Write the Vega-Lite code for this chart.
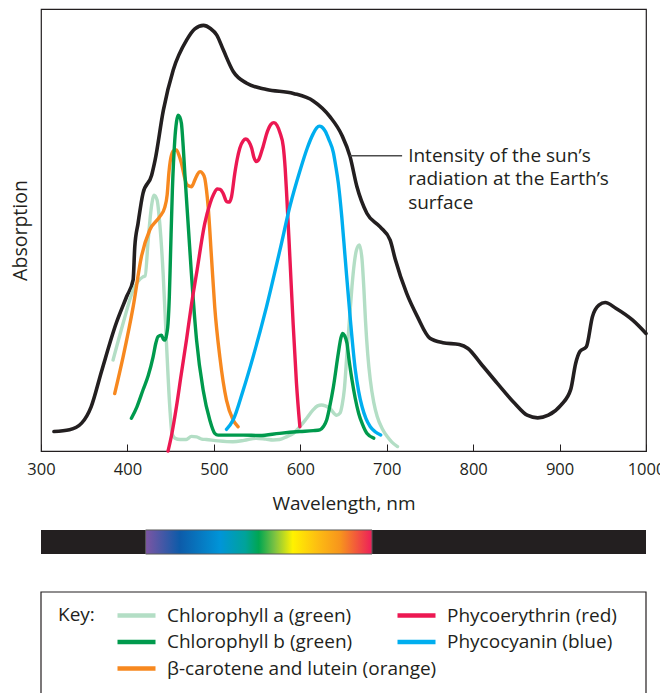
{
  "$schema": "https://vega.github.io/schema/vega-lite/v6.json",
  "padding": {"left": 9, "top": 8, "right": 4, "bottom": -4},
  "config": {
    "font": "Open Sans",
    "view": {"stroke": "#231f20", "strokeWidth": 1.2},
    "axis": {"grid": false},
    "legend": {
      "orient": "none", "symbolType": "stroke", "symbolSize": 1444, "symbolStrokeWidth": 4.5,
      "labelFontSize": 19, "labelColor": "#231f20", "labelOffset": 9, "labelLimit": 400, "padding": 0,
      "clipHeight": 26, "rowPadding": 0.5
    }
  },
  "datasets": {
    "curves": [
      {"pigment": "Sun", "nm": 315, "v": 4.4}, {"pigment": "Sun", "nm": 333, "v": 4.8}, {"pigment": "Sun", "nm": 347, "v": 6.3}, {"pigment": "Sun", "nm": 358, "v": 10},
      {"pigment": "Sun", "nm": 370, "v": 18}, {"pigment": "Sun", "nm": 387, "v": 28.9}, {"pigment": "Sun", "nm": 399, "v": 34.9}, {"pigment": "Sun", "nm": 406.6, "v": 38.7},
      {"pigment": "Sun", "nm": 408.5, "v": 46.2}, {"pigment": "Sun", "nm": 412.3, "v": 51.5}, {"pigment": "Sun", "nm": 418, "v": 58.3}, {"pigment": "Sun", "nm": 428, "v": 62.4},
      {"pigment": "Sun", "nm": 432, "v": 65.8}, {"pigment": "Sun", "nm": 441.6, "v": 77.1}, {"pigment": "Sun", "nm": 453, "v": 86.2}, {"pigment": "Sun", "nm": 468.6, "v": 93},
      {"pigment": "Sun", "nm": 478, "v": 95.5}, {"pigment": "Sun", "nm": 488, "v": 96.3}, {"pigment": "Sun", "nm": 496, "v": 95.6}, {"pigment": "Sun", "nm": 503.4, "v": 94.1},
      {"pigment": "Sun", "nm": 511, "v": 90.7}, {"pigment": "Sun", "nm": 522.6, "v": 85.8}, {"pigment": "Sun", "nm": 538, "v": 83.2}, {"pigment": "Sun", "nm": 561, "v": 81.8},
      {"pigment": "Sun", "nm": 592, "v": 80.9}, {"pigment": "Sun", "nm": 615, "v": 79.2}, {"pigment": "Sun", "nm": 634.5, "v": 75.6}, {"pigment": "Sun", "nm": 648, "v": 71.5},
      {"pigment": "Sun", "nm": 657.6, "v": 66.6}, {"pigment": "Sun", "nm": 665.4, "v": 59.9}, {"pigment": "Sun", "nm": 677, "v": 53.8}, {"pigment": "Sun", "nm": 692.4, "v": 50.7},
      {"pigment": "Sun", "nm": 704, "v": 47.7}, {"pigment": "Sun", "nm": 709.7, "v": 43.5}, {"pigment": "Sun", "nm": 723, "v": 35.7}, {"pigment": "Sun", "nm": 735.5, "v": 30.4},
      {"pigment": "Sun", "nm": 750, "v": 25.5}, {"pigment": "Sun", "nm": 765, "v": 24.5}, {"pigment": "Sun", "nm": 784, "v": 24.1}, {"pigment": "Sun", "nm": 794, "v": 23.2},
      {"pigment": "Sun", "nm": 808.8, "v": 19.8}, {"pigment": "Sun", "nm": 828, "v": 15.3}, {"pigment": "Sun", "nm": 848, "v": 10.8}, {"pigment": "Sun", "nm": 862.5, "v": 8.1},
      {"pigment": "Sun", "nm": 874.7, "v": 7.5}, {"pigment": "Sun", "nm": 887, "v": 8.1}, {"pigment": "Sun", "nm": 901.6, "v": 10.4}, {"pigment": "Sun", "nm": 913, "v": 14},
      {"pigment": "Sun", "nm": 918.6, "v": 19.8}, {"pigment": "Sun", "nm": 923.5, "v": 22.5}, {"pigment": "Sun", "nm": 931, "v": 23.6}, {"pigment": "Sun", "nm": 938, "v": 30.4},
      {"pigment": "Sun", "nm": 945.5, "v": 33}, {"pigment": "Sun", "nm": 952.8, "v": 33.6}, {"pigment": "Sun", "nm": 965, "v": 32.3}, {"pigment": "Sun", "nm": 984.6, "v": 29.6},
      {"pigment": "Sun", "nm": 1000, "v": 26.6},

      {"pigment": "Chlorophyll a (green)", "nm": 383.4, "v": 20.6}, {"pigment": "Chlorophyll a (green)", "nm": 395, "v": 28.9}, {"pigment": "Chlorophyll a (green)", "nm": 406.6, "v": 36.4},
      {"pigment": "Chlorophyll a (green)", "nm": 418, "v": 39.4}, {"pigment": "Chlorophyll a (green)", "nm": 420.5, "v": 39.6}, {"pigment": "Chlorophyll a (green)", "nm": 424, "v": 47.7},
      {"pigment": "Chlorophyll a (green)", "nm": 427.8, "v": 55.3}, {"pigment": "Chlorophyll a (green)", "nm": 430.9, "v": 57.9}, {"pigment": "Chlorophyll a (green)", "nm": 434.3, "v": 56.8},
      {"pigment": "Chlorophyll a (green)", "nm": 437.4, "v": 51.5}, {"pigment": "Chlorophyll a (green)", "nm": 441.3, "v": 40.2}, {"pigment": "Chlorophyll a (green)", "nm": 445, "v": 25.1},
      {"pigment": "Chlorophyll a (green)", "nm": 449, "v": 10}, {"pigment": "Chlorophyll a (green)", "nm": 451.5, "v": 4}, {"pigment": "Chlorophyll a (green)", "nm": 455, "v": 2.9},
      {"pigment": "Chlorophyll a (green)", "nm": 461, "v": 2.6}, {"pigment": "Chlorophyll a (green)", "nm": 468, "v": 2.6}, {"pigment": "Chlorophyll a (green)", "nm": 474, "v": 3.3},
      {"pigment": "Chlorophyll a (green)", "nm": 480, "v": 3.2}, {"pigment": "Chlorophyll a (green)", "nm": 486, "v": 2.7}, {"pigment": "Chlorophyll a (green)", "nm": 491.4, "v": 2.6},
      {"pigment": "Chlorophyll a (green)", "nm": 505, "v": 2.3}, {"pigment": "Chlorophyll a (green)", "nm": 522, "v": 2.1}, {"pigment": "Chlorophyll a (green)", "nm": 535, "v": 2.4},
      {"pigment": "Chlorophyll a (green)", "nm": 549, "v": 2.9}, {"pigment": "Chlorophyll a (green)", "nm": 560, "v": 2.7}, {"pigment": "Chlorophyll a (green)", "nm": 568.6, "v": 2.5},
      {"pigment": "Chlorophyll a (green)", "nm": 576, "v": 2.6}, {"pigment": "Chlorophyll a (green)", "nm": 584, "v": 3.2}, {"pigment": "Chlorophyll a (green)", "nm": 592, "v": 4},
      {"pigment": "Chlorophyll a (green)", "nm": 599.5, "v": 5.5}, {"pigment": "Chlorophyll a (green)", "nm": 607, "v": 7.3}, {"pigment": "Chlorophyll a (green)", "nm": 614.8, "v": 9.3},
      {"pigment": "Chlorophyll a (green)", "nm": 620, "v": 10.2}, {"pigment": "Chlorophyll a (green)", "nm": 624.6, "v": 10.4}, {"pigment": "Chlorophyll a (green)", "nm": 629, "v": 10.2},
      {"pigment": "Chlorophyll a (green)", "nm": 634, "v": 9.7}, {"pigment": "Chlorophyll a (green)", "nm": 642, "v": 8.1}, {"pigment": "Chlorophyll a (green)", "nm": 646, "v": 8.6},
      {"pigment": "Chlorophyll a (green)", "nm": 648.5, "v": 10.5}, {"pigment": "Chlorophyll a (green)", "nm": 651, "v": 14}, {"pigment": "Chlorophyll a (green)", "nm": 654, "v": 22.1},
      {"pigment": "Chlorophyll a (green)", "nm": 657, "v": 30}, {"pigment": "Chlorophyll a (green)", "nm": 659.8, "v": 37.2}, {"pigment": "Chlorophyll a (green)", "nm": 662.5, "v": 42.5},
      {"pigment": "Chlorophyll a (green)", "nm": 665, "v": 45.5}, {"pigment": "Chlorophyll a (green)", "nm": 668.4, "v": 46.6}, {"pigment": "Chlorophyll a (green)", "nm": 671.5, "v": 43.2},
      {"pigment": "Chlorophyll a (green)", "nm": 673.5, "v": 37}, {"pigment": "Chlorophyll a (green)", "nm": 675.4, "v": 29.6}, {"pigment": "Chlorophyll a (green)", "nm": 678, "v": 22},
      {"pigment": "Chlorophyll a (green)", "nm": 681, "v": 16.1}, {"pigment": "Chlorophyll a (green)", "nm": 685, "v": 11}, {"pigment": "Chlorophyll a (green)", "nm": 689, "v": 7.8},
      {"pigment": "Chlorophyll a (green)", "nm": 695, "v": 5}, {"pigment": "Chlorophyll a (green)", "nm": 700.8, "v": 3.2}, {"pigment": "Chlorophyll a (green)", "nm": 706, "v": 2},
      {"pigment": "Chlorophyll a (green)", "nm": 712.5, "v": 1},

      {"pigment": "β-carotene and lutein (orange)", "nm": 385.3, "v": 13}, {"pigment": "β-carotene and lutein (orange)", "nm": 395, "v": 21.3}, {"pigment": "β-carotene and lutein (orange)", "nm": 406.6, "v": 32.6},
      {"pigment": "β-carotene and lutein (orange)", "nm": 416.2, "v": 44}, {"pigment": "β-carotene and lutein (orange)", "nm": 425.8, "v": 50}, {"pigment": "β-carotene and lutein (orange)", "nm": 437.4, "v": 53},
      {"pigment": "β-carotene and lutein (orange)", "nm": 443, "v": 55}, {"pigment": "β-carotene and lutein (orange)", "nm": 446, "v": 58}, {"pigment": "β-carotene and lutein (orange)", "nm": 448, "v": 63},
      {"pigment": "β-carotene and lutein (orange)", "nm": 451, "v": 67}, {"pigment": "β-carotene and lutein (orange)", "nm": 454, "v": 68}, {"pigment": "β-carotene and lutein (orange)", "nm": 456.7, "v": 68.1},
      {"pigment": "β-carotene and lutein (orange)", "nm": 459.5, "v": 67}, {"pigment": "β-carotene and lutein (orange)", "nm": 462.5, "v": 65.1}, {"pigment": "β-carotene and lutein (orange)", "nm": 466, "v": 62},
      {"pigment": "β-carotene and lutein (orange)", "nm": 469, "v": 60.2}, {"pigment": "β-carotene and lutein (orange)", "nm": 474, "v": 59.8}, {"pigment": "β-carotene and lutein (orange)", "nm": 478, "v": 61.3},
      {"pigment": "β-carotene and lutein (orange)", "nm": 481, "v": 62.6}, {"pigment": "β-carotene and lutein (orange)", "nm": 484, "v": 63.2}, {"pigment": "β-carotene and lutein (orange)", "nm": 487, "v": 62.8},
      {"pigment": "β-carotene and lutein (orange)", "nm": 489.5, "v": 61.7}, {"pigment": "β-carotene and lutein (orange)", "nm": 491.5, "v": 59}, {"pigment": "β-carotene and lutein (orange)", "nm": 493.4, "v": 55.3},
      {"pigment": "β-carotene and lutein (orange)", "nm": 497.2, "v": 44}, {"pigment": "β-carotene and lutein (orange)", "nm": 501, "v": 32.6}, {"pigment": "β-carotene and lutein (orange)", "nm": 506.9, "v": 21.3},
      {"pigment": "β-carotene and lutein (orange)", "nm": 514.6, "v": 11.5}, {"pigment": "β-carotene and lutein (orange)", "nm": 522.3, "v": 7}, {"pigment": "β-carotene and lutein (orange)", "nm": 528, "v": 5.5},

      {"pigment": "Chlorophyll b (green)", "nm": 404.6, "v": 7.4}, {"pigment": "Chlorophyll b (green)", "nm": 411, "v": 10}, {"pigment": "Chlorophyll b (green)", "nm": 418, "v": 13.8},
      {"pigment": "Chlorophyll b (green)", "nm": 424, "v": 17}, {"pigment": "Chlorophyll b (green)", "nm": 429.7, "v": 21.3}, {"pigment": "Chlorophyll b (green)", "nm": 433, "v": 24.5},
      {"pigment": "Chlorophyll b (green)", "nm": 435.5, "v": 25.9}, {"pigment": "Chlorophyll b (green)", "nm": 439.4, "v": 26.2}, {"pigment": "Chlorophyll b (green)", "nm": 441.5, "v": 25.3},
      {"pigment": "Chlorophyll b (green)", "nm": 443.2, "v": 25.1}, {"pigment": "Chlorophyll b (green)", "nm": 445.5, "v": 26.5}, {"pigment": "Chlorophyll b (green)", "nm": 447, "v": 28.9},
      {"pigment": "Chlorophyll b (green)", "nm": 448.5, "v": 35}, {"pigment": "Chlorophyll b (green)", "nm": 449.8, "v": 44}, {"pigment": "Chlorophyll b (green)", "nm": 452, "v": 59},
      {"pigment": "Chlorophyll b (green)", "nm": 454.8, "v": 70.4}, {"pigment": "Chlorophyll b (green)", "nm": 456.8, "v": 74.5}, {"pigment": "Chlorophyll b (green)", "nm": 458.6, "v": 76},
      {"pigment": "Chlorophyll b (green)", "nm": 460.5, "v": 75.6}, {"pigment": "Chlorophyll b (green)", "nm": 462.5, "v": 74.1}, {"pigment": "Chlorophyll b (green)", "nm": 464.5, "v": 69},
      {"pigment": "Chlorophyll b (green)", "nm": 466.4, "v": 62.8}, {"pigment": "Chlorophyll b (green)", "nm": 470.2, "v": 51.5}, {"pigment": "Chlorophyll b (green)", "nm": 474, "v": 40.2},
      {"pigment": "Chlorophyll b (green)", "nm": 480, "v": 25.1}, {"pigment": "Chlorophyll b (green)", "nm": 487.6, "v": 13.8}, {"pigment": "Chlorophyll b (green)", "nm": 495.3, "v": 7},
      {"pigment": "Chlorophyll b (green)", "nm": 501, "v": 4}, {"pigment": "Chlorophyll b (green)", "nm": 505, "v": 3.6}, {"pigment": "Chlorophyll b (green)", "nm": 510.7, "v": 3.6},
      {"pigment": "Chlorophyll b (green)", "nm": 534, "v": 3.6}, {"pigment": "Chlorophyll b (green)", "nm": 553, "v": 3.5}, {"pigment": "Chlorophyll b (green)", "nm": 576, "v": 4},
      {"pigment": "Chlorophyll b (green)", "nm": 599.5, "v": 4.4}, {"pigment": "Chlorophyll b (green)", "nm": 615, "v": 4.6}, {"pigment": "Chlorophyll b (green)", "nm": 622.6, "v": 4.8},
      {"pigment": "Chlorophyll b (green)", "nm": 627, "v": 5.6}, {"pigment": "Chlorophyll b (green)", "nm": 630.5, "v": 7}, {"pigment": "Chlorophyll b (green)", "nm": 634, "v": 10},
      {"pigment": "Chlorophyll b (green)", "nm": 638.3, "v": 14.5}, {"pigment": "Chlorophyll b (green)", "nm": 644, "v": 22.1}, {"pigment": "Chlorophyll b (green)", "nm": 647, "v": 25.6},
      {"pigment": "Chlorophyll b (green)", "nm": 649, "v": 26.6}, {"pigment": "Chlorophyll b (green)", "nm": 651, "v": 26.2}, {"pigment": "Chlorophyll b (green)", "nm": 654, "v": 24.4},
      {"pigment": "Chlorophyll b (green)", "nm": 656.5, "v": 20.5}, {"pigment": "Chlorophyll b (green)", "nm": 659.8, "v": 16.1}, {"pigment": "Chlorophyll b (green)", "nm": 663.5, "v": 12},
      {"pigment": "Chlorophyll b (green)", "nm": 667.6, "v": 8.5}, {"pigment": "Chlorophyll b (green)", "nm": 672, "v": 6}, {"pigment": "Chlorophyll b (green)", "nm": 677, "v": 4},
      {"pigment": "Chlorophyll b (green)", "nm": 685, "v": 2.9},

      {"pigment": "Phycoerythrin (red)", "nm": 447, "v": 0}, {"pigment": "Phycoerythrin (red)", "nm": 451, "v": 3.5}, {"pigment": "Phycoerythrin (red)", "nm": 456.7, "v": 10},
      {"pigment": "Phycoerythrin (red)", "nm": 462, "v": 17}, {"pigment": "Phycoerythrin (red)", "nm": 468.3, "v": 25.1}, {"pigment": "Phycoerythrin (red)", "nm": 474, "v": 33},
      {"pigment": "Phycoerythrin (red)", "nm": 480, "v": 40.2}, {"pigment": "Phycoerythrin (red)", "nm": 489.5, "v": 51.5}, {"pigment": "Phycoerythrin (red)", "nm": 495.6, "v": 56},
      {"pigment": "Phycoerythrin (red)", "nm": 500, "v": 58.2}, {"pigment": "Phycoerythrin (red)", "nm": 504, "v": 59.3}, {"pigment": "Phycoerythrin (red)", "nm": 507.2, "v": 59.2},
      {"pigment": "Phycoerythrin (red)", "nm": 510.7, "v": 58.3}, {"pigment": "Phycoerythrin (red)", "nm": 514.9, "v": 56.4}, {"pigment": "Phycoerythrin (red)", "nm": 518, "v": 56.3},
      {"pigment": "Phycoerythrin (red)", "nm": 520.4, "v": 57.5}, {"pigment": "Phycoerythrin (red)", "nm": 524.2, "v": 62.8}, {"pigment": "Phycoerythrin (red)", "nm": 527, "v": 66},
      {"pigment": "Phycoerythrin (red)", "nm": 530, "v": 68.5}, {"pigment": "Phycoerythrin (red)", "nm": 534, "v": 70.2}, {"pigment": "Phycoerythrin (red)", "nm": 537, "v": 70.6},
      {"pigment": "Phycoerythrin (red)", "nm": 540.5, "v": 70}, {"pigment": "Phycoerythrin (red)", "nm": 543.8, "v": 68.5}, {"pigment": "Phycoerythrin (red)", "nm": 546.2, "v": 66.5},
      {"pigment": "Phycoerythrin (red)", "nm": 549, "v": 65.5}, {"pigment": "Phycoerythrin (red)", "nm": 551.5, "v": 65.8}, {"pigment": "Phycoerythrin (red)", "nm": 554, "v": 67},
      {"pigment": "Phycoerythrin (red)", "nm": 557, "v": 68.9}, {"pigment": "Phycoerythrin (red)", "nm": 562, "v": 72.3}, {"pigment": "Phycoerythrin (red)", "nm": 566, "v": 73.9},
      {"pigment": "Phycoerythrin (red)", "nm": 569.5, "v": 74.3}, {"pigment": "Phycoerythrin (red)", "nm": 573, "v": 73.7}, {"pigment": "Phycoerythrin (red)", "nm": 576.5, "v": 72},
      {"pigment": "Phycoerythrin (red)", "nm": 580.3, "v": 68.9}, {"pigment": "Phycoerythrin (red)", "nm": 582.5, "v": 64}, {"pigment": "Phycoerythrin (red)", "nm": 584.4, "v": 57.5},
      {"pigment": "Phycoerythrin (red)", "nm": 587.9, "v": 44}, {"pigment": "Phycoerythrin (red)", "nm": 591.7, "v": 28.9}, {"pigment": "Phycoerythrin (red)", "nm": 595.6, "v": 15.3},
      {"pigment": "Phycoerythrin (red)", "nm": 599.5, "v": 5.5},

      {"pigment": "Phycocyanin (blue)", "nm": 514.6, "v": 4.9}, {"pigment": "Phycocyanin (blue)", "nm": 522.3, "v": 7}, {"pigment": "Phycocyanin (blue)", "nm": 534, "v": 13.8},
      {"pigment": "Phycocyanin (blue)", "nm": 545.4, "v": 21.3}, {"pigment": "Phycocyanin (blue)", "nm": 560.9, "v": 32.6}, {"pigment": "Phycocyanin (blue)", "nm": 576.5, "v": 45.5},
      {"pigment": "Phycocyanin (blue)", "nm": 588.2, "v": 55.5}, {"pigment": "Phycocyanin (blue)", "nm": 599.8, "v": 63.5}, {"pigment": "Phycocyanin (blue)", "nm": 608, "v": 68.5},
      {"pigment": "Phycocyanin (blue)", "nm": 615, "v": 71.8}, {"pigment": "Phycocyanin (blue)", "nm": 619, "v": 73.1}, {"pigment": "Phycocyanin (blue)", "nm": 622, "v": 73.5},
      {"pigment": "Phycocyanin (blue)", "nm": 625, "v": 73.3}, {"pigment": "Phycocyanin (blue)", "nm": 629, "v": 72.3}, {"pigment": "Phycocyanin (blue)", "nm": 633, "v": 70.5},
      {"pigment": "Phycocyanin (blue)", "nm": 638.3, "v": 67.5}, {"pigment": "Phycocyanin (blue)", "nm": 641, "v": 64.5}, {"pigment": "Phycocyanin (blue)", "nm": 644, "v": 60.6},
      {"pigment": "Phycocyanin (blue)", "nm": 648, "v": 53}, {"pigment": "Phycocyanin (blue)", "nm": 652, "v": 43.5}, {"pigment": "Phycocyanin (blue)", "nm": 657.8, "v": 30},
      {"pigment": "Phycocyanin (blue)", "nm": 663.7, "v": 18.3}, {"pigment": "Phycocyanin (blue)", "nm": 667.5, "v": 13.5}, {"pigment": "Phycocyanin (blue)", "nm": 671.5, "v": 10},
      {"pigment": "Phycocyanin (blue)", "nm": 676, "v": 7.3}, {"pigment": "Phycocyanin (blue)", "nm": 681, "v": 5.5}, {"pigment": "Phycocyanin (blue)", "nm": 687, "v": 4.3},
      {"pigment": "Phycocyanin (blue)", "nm": 693, "v": 3.6}
    ],
    "note": [
      {"x1": 657.6, "x2": 717.8, "tx": 724.8, "y": 66.8, "label": ["Intensity of the sun’s", "radiation at the Earth’s", "surface"]}
    ],
    "spectrum": [
      {"band": "full range", "strip": "spectrum", "start": 300, "end": 1000},
      {"band": "visible", "strip": "spectrum", "start": 421, "end": 683}
    ],
    "keybox": [
      {"box": "key"}
    ]
  },
  "bounds": "flush",
  "spacing": 38,
  "vconcat": [
    {
      "width": 605,
      "height": 442,
      "data": {"name": "curves"},
      "encoding": {
        "x": {
          "field": "nm", "type": "quantitative",
          "scale": {"domain": [300, 1000], "nice": false},
          "axis": {
            "values": [300, 400, 500, 600, 700, 800, 900, 1000], "format": "d",
            "tickSize": -7, "tickColor": "#231f20", "tickWidth": 1,
            "domainColor": "#231f20", "domainWidth": 1.2,
            "labelFontSize": 16.5, "labelColor": "#231f20", "labelPadding": 17, "labelFlush": false,
            "title": "Wavelength, nm", "titleFontSize": 19, "titleFontWeight": "normal", "titleColor": "#231f20", "titlePadding": 17
          }
        },
        "y": {
          "field": "v", "type": "quantitative",
          "scale": {"domain": [0, 100], "nice": false},
          "axis": {
            "title": "Absorption", "labels": false, "ticks": false, "domain": false,
            "titleFontSize": 19.5, "titleFontWeight": "normal", "titleColor": "#231f20", "titlePadding": 11
          }
        }
      },
      "layer": [
        {
          "transform": [{"filter": "datum.pigment === 'Sun'"}],
          "mark": {"type": "line", "color": "#231f20", "strokeWidth": 3.6, "interpolate": "monotone", "strokeCap": "round", "strokeJoin": "round"}
        },
        {
          "transform": [{"filter": "indexof(['Chlorophyll a (green)', 'Chlorophyll b (green)', 'β-carotene and lutein (orange)'], datum.pigment) >= 0"}],
          "mark": {"type": "line", "strokeWidth": 3.4, "interpolate": "monotone", "strokeCap": "round", "strokeJoin": "round"},
          "encoding": {
            "color": {
              "field": "pigment", "type": "nominal",
              "scale": {
                "domain": ["Chlorophyll a (green)", "Chlorophyll b (green)", "β-carotene and lutein (orange)"],
                "range": ["#b3dec5", "#009a4d", "#f7881f"]
              },
              "legend": {
                "legendX": 17, "legendY": 593.5,
                "title": "Key:", "titleOrient": "left", "titleAnchor": "start",
                "titleBaseline": "line-top", "titleLineHeight": 25,
                "titleFontSize": 19, "titleFontWeight": "normal", "titleColor": "#231f20", "titlePadding": 20
              }
            }
          }
        },
        {
          "transform": [{"filter": "indexof(['Phycoerythrin (red)', 'Phycocyanin (blue)'], datum.pigment) >= 0"}],
          "mark": {"type": "line", "strokeWidth": 3.4, "interpolate": "monotone", "strokeCap": "round", "strokeJoin": "round"},
          "encoding": {
            "stroke": {
              "field": "pigment", "type": "nominal",
              "scale": {
                "domain": ["Phycoerythrin (red)", "Phycocyanin (blue)"],
                "range": ["#ec1852", "#00aeef"]
              },
              "legend": {"legendX": 354, "legendY": 593.5, "title": null}
            }
          }
        },
        {
          "data": {"name": "note"},
          "mark": {"type": "rule", "color": "#4d4d4d", "strokeWidth": 1.5},
          "encoding": {"x": {"field": "x1", "type": "quantitative"}, "x2": {"field": "x2"}, "y": {"field": "y", "type": "quantitative"}}
        },
        {
          "data": {"name": "note"},
          "mark": {"type": "text", "align": "left", "baseline": "middle", "fontSize": 19, "lineHeight": 23.5, "color": "#231f20"},
          "encoding": {"x": {"field": "tx", "type": "quantitative"}, "y": {"field": "y", "type": "quantitative"}, "text": {"field": "label"}}
        }
      ]
    },
    {
      "width": 605,
      "height": 65,
      "view": {"stroke": null},
      "data": {"name": "spectrum"},
      "encoding": {
        "x": {"field": "start", "type": "quantitative", "scale": {"domain": [300, 1000], "nice": false}, "axis": null},
        "x2": {"field": "end"},
        "y": {"field": "strip", "type": "nominal", "scale": {"paddingInner": 0, "paddingOuter": 0.854, "align": 1}, "axis": null}
      },
      "layer": [
        {
          "transform": [{"filter": "datum.band === 'full range'"}],
          "mark": {"type": "rect", "color": "#231f20"}
        },
        {
          "transform": [{"filter": "datum.band === 'visible'"}],
          "mark": {
            "type": "rect", "stroke": "#5a5a5a", "strokeWidth": 1,
            "fill": {
              "gradient": "linear", "x1": 0, "y1": 0, "x2": 1, "y2": 0,
              "stops": [
                {"offset": 0, "color": "#7d55a3"},
                {"offset": 0.15, "color": "#0d5ba9"},
                {"offset": 0.33, "color": "#0095d8"},
                {"offset": 0.44, "color": "#00a39a"},
                {"offset": 0.5, "color": "#00a651"},
                {"offset": 0.57, "color": "#7cc242"},
                {"offset": 0.65, "color": "#fff200"},
                {"offset": 0.76, "color": "#fdbd12"},
                {"offset": 0.86, "color": "#f7941d"},
                {"offset": 1, "color": "#ed1e5a"}
              ]
            }
          }
        }
      ]
    },
    {
      "width": 605,
      "height": 104,
      "data": {"name": "keybox"},
      "mark": {"type": "rect", "fill": "#ffffff", "stroke": "#231f20", "strokeWidth": 1.2}
    }
  ]
}
